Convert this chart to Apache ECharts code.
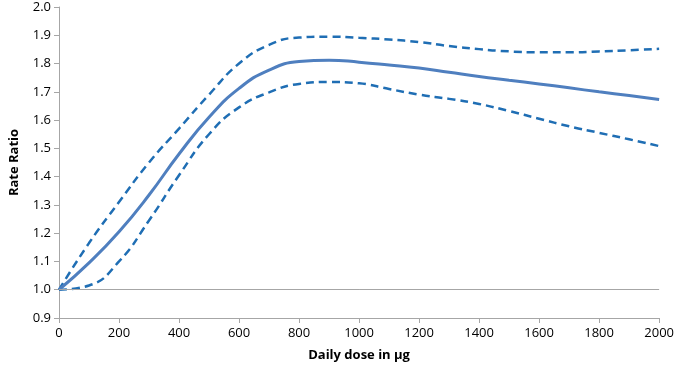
<!DOCTYPE html>
<html>
<head>
<meta charset="utf-8">
<script src="https://cdn.jsdelivr.net/npm/echarts@6/dist/echarts.min.js"></script>
<style>
  html, body { margin: 0; padding: 0; background: #fff; }
  #chart { width: 677px; height: 369px; }
</style>
</head>
<body>
<div id="chart"></div>
<script>
// daily dose (µg)
const doses = [0, 100, 200, 300, 400, 500, 600, 700, 800, 900, 1000,
  1100, 1200, 1300, 1400, 1500, 1600, 1700, 1800, 1900, 2000];
// rate ratio estimate
const estimate = [1.00, 1.095, 1.205, 1.335, 1.48, 1.61, 1.712, 1.777, 1.807, 1.812, 1.805,
  1.795, 1.784, 1.769, 1.754, 1.741, 1.728, 1.714, 1.70, 1.687, 1.673];
// 95% confidence limits
const upper = [1.00, 1.165, 1.31, 1.45, 1.57, 1.69, 1.80, 1.866, 1.892, 1.895, 1.891,
  1.885, 1.876, 1.862, 1.851, 1.843, 1.840, 1.840, 1.843, 1.847, 1.852];
const lower = [1.00, 1.015, 1.10, 1.245, 1.405, 1.55, 1.645, 1.698, 1.728, 1.735, 1.73,
  1.71, 1.69, 1.675, 1.657, 1.632, 1.605, 1.578, 1.555, 1.532, 1.508];
const refLevel = 1.0;

const pairs = (ys) => doses.map((d, i) => [d, ys[i]]);
const font = "'Open Sans', 'Liberation Sans', sans-serif";

const chart = echarts.init(document.getElementById("chart"));
chart.setOption({
  animation: false,
  grid: { left: 56, right: 16, top: 7, bottom: 51 },
  xAxis: {
    type: "value",
    min: 0,
    max: 2000,
    interval: 200,
    name: "Daily dose in µg",
    nameLocation: "middle",
    nameGap: 31,
    nameTextStyle: { fontFamily: font, fontWeight: "bold", fontSize: 13, color: "#000" },
    axisLine: { lineStyle: { color: "#a6a6a6" } },
    axisTick: { show: true, length: 5, lineStyle: { color: "#a6a6a6" } },
    axisLabel: { fontFamily: font, fontSize: 13, color: "#000", margin: 9, formatter: (v) => String(v) },
    splitLine: { show: false },
  },
  yAxis: {
    type: "value",
    min: 0.9,
    max: 2.0,
    interval: 0.1,
    name: "Rate Ratio",
    nameLocation: "middle",
    nameGap: 38,
    nameTextStyle: { fontFamily: font, fontWeight: "bold", fontSize: 13, color: "#000" },
    axisLine: { show: true, lineStyle: { color: "#a6a6a6" } },
    axisTick: { show: true, length: 5, lineStyle: { color: "#a6a6a6" } },
    axisLabel: {
      fontFamily: font, fontSize: 13, color: "#000", margin: 8,
      formatter: (v) => v.toFixed(1),
    },
    splitLine: { show: false },
  },
  series: [
    {
      type: "line",
      data: pairs(upper),
      smooth: true,
      symbol: "none",
      lineStyle: { color: "#1f6eb4", width: 2.5, type: [8, 5] },
      markLine: {
        silent: true,
        symbol: "none",
        label: { show: false },
        lineStyle: { color: "#a6a6a6", width: 1, type: "solid" },
        data: [{ yAxis: refLevel }],
      },
      z: 3,
    },
    {
      type: "line",
      data: pairs(lower),
      smooth: true,
      symbol: "none",
      lineStyle: { color: "#1f6eb4", width: 2.5, type: [8, 5] },
      z: 3,
    },
    {
      type: "line",
      data: pairs(estimate),
      smooth: true,
      symbol: "none",
      lineStyle: { color: "#4f7fbf", width: 3 },
      z: 4,
    },
  ],
});
</script>
</body>
</html>
